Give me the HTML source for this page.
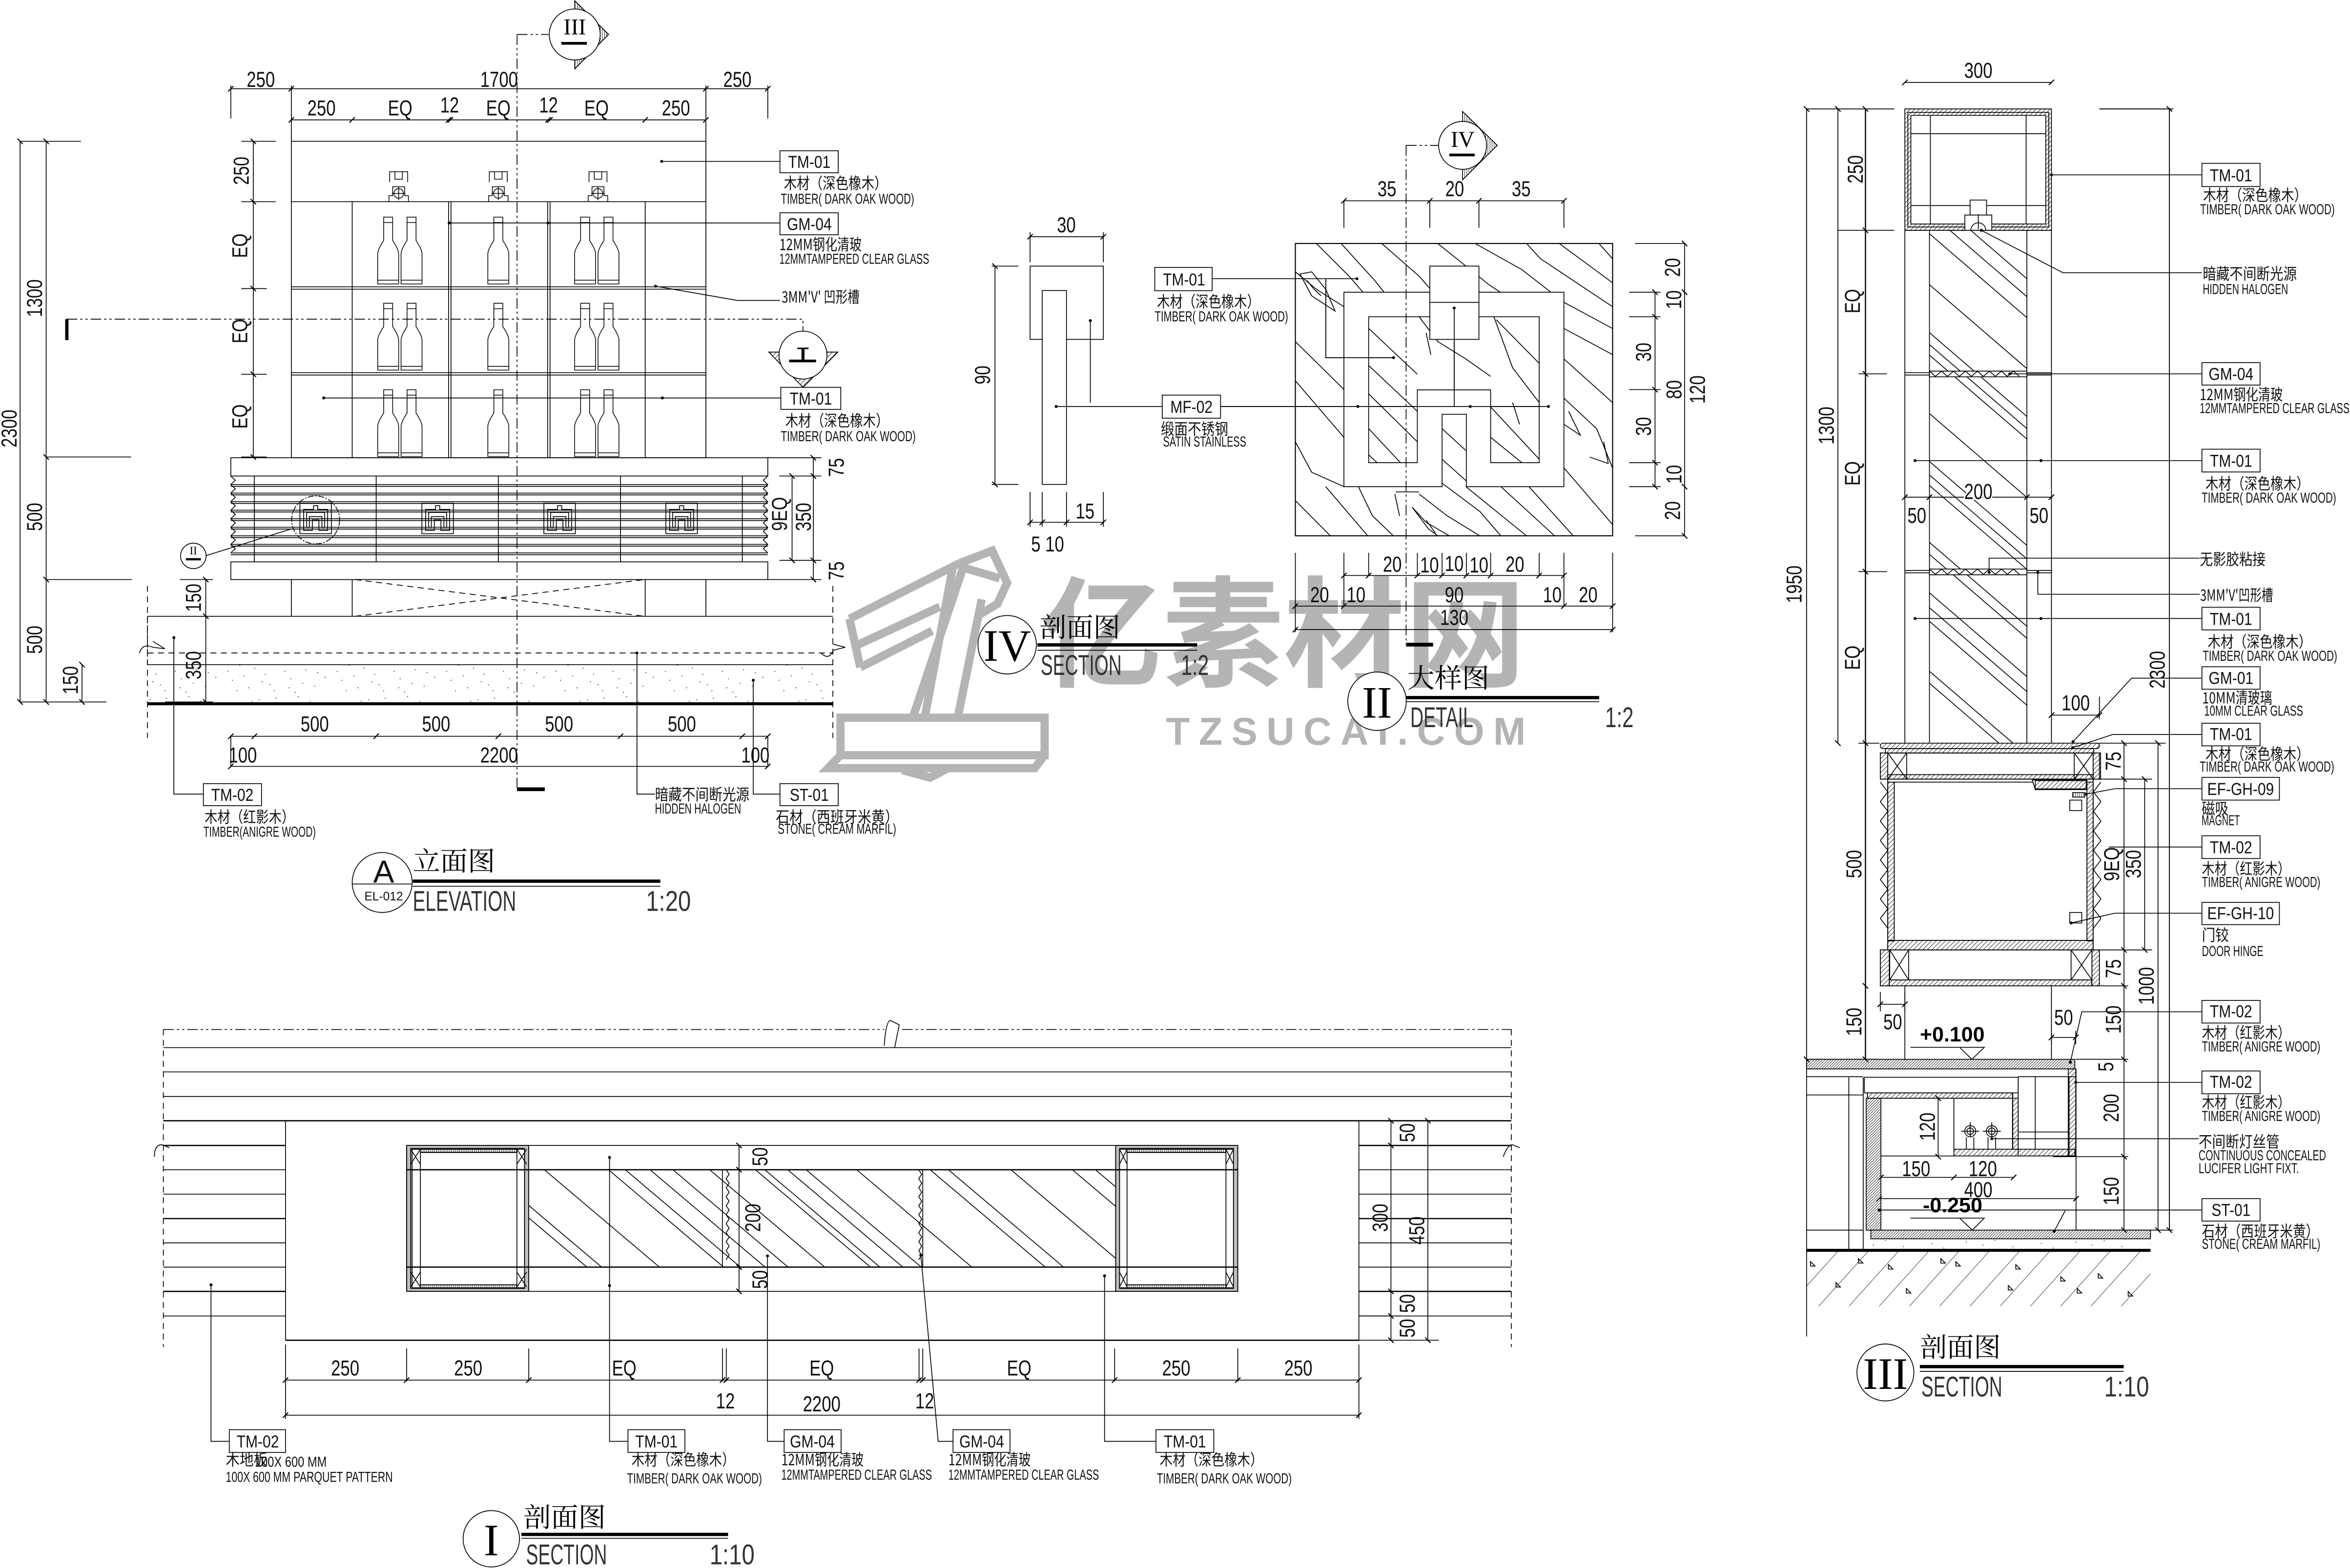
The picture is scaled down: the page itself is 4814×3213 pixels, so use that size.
<!DOCTYPE html>
<html><head><meta charset="utf-8"><title>Drawing</title>
<style>
html,body{margin:0;padding:0;background:#fff}
svg{display:block}
text{font-family:"Liberation Sans","Noto Sans CJK SC",sans-serif;fill:#111}
.d{font-size:14.5px;text-anchor:middle;transform-box:fill-box;transform-origin:center;transform:scaleX(.78)}
.b{font-size:11.5px;text-anchor:middle;transform-box:fill-box;transform-origin:center;transform:scaleX(.85)}
.c{font-size:10.5px;font-family:"Noto Sans CJK SC","Liberation Sans",sans-serif}
.e{font-size:9.5px}
.t{font-size:18px;font-family:"Noto Serif CJK SC","Noto Sans CJK SC",serif;fill:#000}
.n{font-size:19px;fill:#333}
.r{font-family:"Liberation Serif",serif;text-anchor:middle;fill:#000}
.lv{font-size:14px;font-weight:bold;fill:#000}
g.l *,.l{fill:none;stroke:#000;stroke-width:.55}
.w{fill:#fff!important}
.k{fill:#000!important;stroke:none!important}
.dm{fill:none;stroke:#000;stroke-width:.55;marker-start:url(#tk);marker-mid:url(#tk);marker-end:url(#tk)}
.da{stroke-dasharray:7 2 1.5 2 1.5 2}
.ds{stroke-dasharray:4 3}
.bx{fill:#fff;stroke:#000;stroke-width:.55}
.wm{fill:none;stroke:#b4b4b4;stroke-width:5.5;stroke-linejoin:miter}
</style></head><body>
<svg xmlns="http://www.w3.org/2000/svg" width="4814" height="3213" viewBox="0 0 1568 1046.5">
<defs>
<marker id="tk" markerUnits="userSpaceOnUse" markerWidth="8" markerHeight="8" refX="4" refY="4" orient="auto"><path d="M2.2 5.8L5.8 2.2" stroke="#000" stroke-width=".7" fill="none"/></marker>
<pattern id="h1" width="2.2" height="2.2" patternUnits="userSpaceOnUse" patternTransform="rotate(45)"><line x1="0" y1="0" x2="0" y2="2.2" stroke="#000" stroke-width=".55"/></pattern>
<pattern id="h2" width="1.3" height="1.3" patternUnits="userSpaceOnUse" patternTransform="rotate(45)"><line x1="0" y1="0" x2="0" y2="1.3" stroke="#000" stroke-width=".55"/></pattern>
<pattern id="pg" width="15" height="15" patternUnits="userSpaceOnUse" patternTransform="rotate(42)"><line x1="0" y1="0" x2="0" y2="15" stroke="#000" stroke-width=".5"/></pattern>
<pattern id="vh" width="1.4" height="3" patternUnits="userSpaceOnUse"><line x1="0" y1="0" x2="0" y2="3" stroke="#000" stroke-width=".55"/></pattern>
<pattern id="ps" width="73" height="29" patternUnits="userSpaceOnUse"><g fill="#000"><circle cx="3" cy="5" r=".3"/><circle cx="9" cy="19" r=".3"/><circle cx="14" cy="9" r=".3"/><circle cx="20" cy="24" r=".3"/><circle cx="27" cy="3" r=".3"/><circle cx="31" cy="15" r=".3"/><circle cx="37" cy="26" r=".3"/><circle cx="41" cy="7" r=".3"/><circle cx="48" cy="18" r=".3"/><circle cx="53" cy="1" r=".3"/><circle cx="58" cy="12" r=".3"/><circle cx="64" cy="23" r=".3"/><circle cx="69" cy="6" r=".3"/><circle cx="6" cy="13" r=".3"/><circle cx="17" cy="16" r=".3"/><circle cx="24" cy="11" r=".3"/><circle cx="34" cy="22" r=".3"/><circle cx="44" cy="13" r=".3"/><circle cx="51" cy="27" r=".3"/><circle cx="61" cy="4" r=".3"/><circle cx="71" cy="17" r=".3"/><circle cx="12" cy="26" r=".3"/><circle cx="29" cy="20" r=".3"/><circle cx="56" cy="21" r=".3"/><circle cx="66" cy="14" r=".3"/><circle cx="38" cy="2" r=".3"/><circle cx="22" cy="4" r=".3"/><circle cx="47" cy="24" r=".3"/></g></pattern>
<clipPath id="cs"><rect x="864.3" y="162.5" width="211.7" height="195.1"/></clipPath>
<clipPath id="c3"><rect x="1287.4" y="153.7" width="65" height="342.3"/></clipPath>
<clipPath id="c1"><rect x="352.8" y="780.7" width="391.6" height="65"/></clipPath>
<g id="bt"><path d="M-7 0V-20Q-7 -23 -3 -29V-44.6H3V-29Q7 -23 7 -20V0ZM-7 -2.5H7M-3 -41H3" fill="none" stroke="#000" stroke-width=".5"/></g>
<g id="hd" fill="none" stroke="#000" stroke-width=".55"><rect x="-10.5" y="-10.2" width="21" height="20.4"/><path d="M-8 -6H-1.4V-8.5H1.4V-6H8V8H2.2V1H-2.2V8H-8Z"/><path d="M-6 -4H6V6H4.2V-1.2H-4.2V6H-6Z"/></g>
<g id="lp" fill="none" stroke="#000" stroke-width=".5"><path d="M-6 -13V-20H6V-13M-2.5 -20V-15H2.5V-20M-6.5 0V-4H-4V-10H4V-4H6.5V0"/><circle cx="0" cy="-5.5" r="3.2"/><path d="M-4.5 -5.5H4.5M0 -10V-1"/></g>
</defs>
<rect width="1568" height="1046.5" fill="#fff"/>

<!-- watermark -->
<g>
<path class="wm" d="M566.8 413L640 376M574 445.4L622 421M566.8 413L574 445.4M571 431L627 405"/>
<path class="wm" d="M640 376L662 367.5 672 389 665.5 403 654 410M640 378L667 386"/>
<path class="wm" d="M635.6 379.4L617 479M643.9 375L609 479M655 400L639 479"/>
<path class="wm" d="M560.8 479H697V504H560.8ZM697 504L690.4 512.7H552.5L560.8 504M602 514L620.6 519 632 513"/>
<text x="695" y="452" textLength="323" lengthAdjust="spacingAndGlyphs" style="font-family:'Noto Sans CJK SC',sans-serif;font-size:80px;font-weight:bold;fill:#b4b4b4">亿素材网</text>
<text x="778" y="497" textLength="240" style="font-size:26px;font-weight:bold;fill:#b4b4b4">TZSUCAI.COM</text>
</g>

<!-- ELEVATION A -->
<g class="l">
<rect x="194.4" y="94.3" width="276.6" height="211.2"/>
<path d="M194.4 134.6H471M194.4 191.4H471M194.4 193H471M194.4 248.7H471M194.4 250.3H471M235 134.6V305.5M430.5 134.6V305.5M299.3 134.6V305.5M300.9 134.6V305.5M365.4 134.6V305.5M367 134.6V305.5"/>
<rect x="154" y="305.5" width="358.3" height="12.2"/>
<rect x="154" y="375" width="358.3" height="11.8"/>
<path d="M154 323.4H512.3M154 329.1H512.3M154 334.8H512.3M154 340.5H512.3M154 346.2H512.3M154 351.9H512.3M154 357.6H512.3M154 363.3H512.3M154 369H512.3M154 324.6H512.3M154 330.3H512.3M154 336H512.3M154 341.7H512.3M154 347.4H512.3M154 353.1H512.3M154 358.8H512.3M154 364.5H512.3M154 370.2H512.3"/>
<path d="M169.7 317.7V375M251 317.7V375M332.5 317.7V375M414 317.7V375M495.3 317.7V375"/>
<path d="M154 317.7l3 2.8-3 2.9 3 2.8-3 2.9 3 2.8-3 2.9 3 2.8-3 2.9 3 2.8-3 2.9 3 2.8-3 2.9 3 2.8-3 2.9 3 2.8-3 2.9 3 2.8-3 2.9M512.3 317.7l-3 2.8 3 2.9-3 2.8 3 2.9-3 2.8 3 2.9-3 2.8 3 2.9-3 2.8 3 2.9-3 2.8 3 2.9-3 2.8 3 2.9-3 2.8 3 2.9-3 2.8 3 2.9"/>
<path d="M194.4 386.8V411.3M235 386.8V411.3M430.5 386.8V411.3M471 386.8V411.3"/>
<path class="ds" d="M237 386.8L430 411.3M237 411.3L430 386.8"/>
<path d="M98.4 411.3H555.7M98.4 443.6H555.7" />
<path class="ds" d="M98.4 435.8H555.7M98.4 391V492.6M555.7 391V492.6"/>
<path d="M98.4 411.3V443.6" stroke-dasharray="3 3"/>
<path d="M93 436q2-7 9-4l8 1M548 436q5 5 8-2l8-2M102 428l8 5M556 430l8 2"/>
</g>
<rect x="98.4" y="443.6" width="457.3" height="25.5" fill="url(#ps)"/>
<rect x="98.4" y="468.7" width="457.3" height="2" fill="#000"/>
<use href="#bt" x="259" y="189.5"/><use href="#bt" x="274.6" y="189.5"/><use href="#bt" x="332.5" y="189.5"/><use href="#bt" x="390.4" y="189.5"/><use href="#bt" x="406" y="189.5"/>
<use href="#bt" x="259" y="247"/><use href="#bt" x="274.6" y="247"/><use href="#bt" x="332.5" y="247"/><use href="#bt" x="390.4" y="247"/><use href="#bt" x="406" y="247"/>
<use href="#bt" x="259" y="304.7"/><use href="#bt" x="274.6" y="304.7"/><use href="#bt" x="332.5" y="304.7"/><use href="#bt" x="390.4" y="304.7"/><use href="#bt" x="406" y="304.7"/>
<use href="#lp" x="266" y="134.6"/><use href="#lp" x="332.5" y="134.6"/><use href="#lp" x="399" y="134.6"/>
<use href="#hd" x="210.6" y="346"/><use href="#hd" x="292" y="346"/><use href="#hd" x="373.4" y="346"/><use href="#hd" x="454.8" y="346"/>
<g class="l">
<circle cx="210.6" cy="347" r="16" stroke-dasharray="4 1 1 1"/>
<path d="M137 371L194.4 353"/>
<circle class="w" cx="129" cy="371" r="8.5"/>
<path class="da" d="M345 23V527M345 23H366M44.5 213H535.8V221"/>
</g>
<rect x="345" y="525.5" width="18.5" height="2.5" fill="#000"/>
<rect x="43.5" y="213" width="2.2" height="14" fill="#000"/>
<!-- section markers -->
<g class="l">
<path d="M383.5 .5L406 23 383.5 46" class="w"/>
<path d="M383.5 .5L406 23 383.5 46Z" style="fill:url(#vh)"/>
<circle class="w" cx="383.5" cy="23" r="17"/>
<path d="M513 235H559L535.8 258.5Z" style="fill:url(#h1)"/>
<circle class="w" cx="535.8" cy="237" r="16"/>
</g>
<text class="r" x="383.5" y="23" style="font-size:15px">III</text>
<rect x="374.6" y="28" width="17" height="1.8" fill="#000"/>
<rect x="526.5" y="240" width="18" height="1.8" fill="#000"/>
<rect x="534.8" y="232.5" width="2" height="8" fill="#000"/>
<rect x="532" y="232" width="7.5" height="1" fill="#000"/>
<text class="r" x="129" y="370" style="font-size:7.5px">II</text>
<rect x="124" y="372.5" width="10" height="1.5" fill="#000"/>

<!-- dims elevation -->
<polyline class="dm" points="154,59.2 194.4,59.2 471,59.2 512.3,59.2"/>
<polyline class="dm" points="194.4,80 235,80 299.3,80 300.5,80 365.7,80 367,80 430.5,80 471,80"/>
<g class="l"><path d="M154 57V79M512.3 57V79M194.4 57V94M471 57V94M30.8 94.3H54M13.4 94.3H30.8M30.8 305H87.5M30.8 386.8H88M30.8 468.5H71M13 468.5H31M161 94.3H184M161 134.6H184M161 192.6H178M161 249.8H178M161 305H178M120 386.8H142M120 411.3H142M110 468.5H142M520 317.7H548M520 374H548M512.3 305.5H548M512.3 386.8H548M154 491V512M512.3 491V512"/></g>
<polyline class="dm" points="13.4,94.3 13.4,468.5"/>
<polyline class="dm" points="30.8,94.3 30.8,305 30.8,386.8 30.8,468.5"/>
<polyline class="dm" points="54.7,443.6 54.7,468.5"/>
<polyline class="dm" points="169,94.3 169,134.6 169,192.6 169,249.8 169,305"/>
<polyline class="dm" points="137.3,386.8 137.3,411.3 137.3,468.5"/>
<polyline class="dm" points="528.5,317.7 528.5,374"/>
<polyline class="dm" points="542.7,305.5 542.7,317.7 542.7,374 542.7,386.8"/>
<polyline class="dm" points="154,491.4 169.7,491.4 251,491.4 332.5,491.4 414,491.4 495.3,491.4 512.3,491.4"/>
<polyline class="dm" points="154,511.5 512.3,511.5"/>
<text class="d" x="174" y="58">250</text><text class="d" x="333" y="58">1700</text><text class="d" x="492" y="58">250</text>
<text class="d" x="214.5" y="77">250</text><text class="d" x="267" y="77">EQ</text><text class="d" x="300" y="75">12</text><text class="d" x="332.5" y="77">EQ</text><text class="d" x="366" y="75">12</text><text class="d" x="398" y="77">EQ</text><text class="d" x="451" y="77">250</text>
<text class="d" x="210" y="488">500</text><text class="d" x="291" y="488">500</text><text class="d" x="373" y="488">500</text><text class="d" x="455" y="488">500</text>
<text class="d" x="162" y="509">100</text><text class="d" x="333" y="509">2200</text><text class="d" x="504" y="509">100</text>
<g transform="translate(6 286)rotate(-90)"><text class="d" y="5">2300</text></g>
<g transform="translate(23 199)rotate(-90)"><text class="d" y="5">1300</text></g>
<g transform="translate(23 345)rotate(-90)"><text class="d" y="5">500</text></g>
<g transform="translate(23 427)rotate(-90)"><text class="d" y="5">500</text></g>
<g transform="translate(47 454)rotate(-90)"><text class="d" y="5">150</text></g>
<g transform="translate(161 114)rotate(-90)"><text class="d" y="5">250</text></g>
<g transform="translate(160 164)rotate(-90)"><text class="d" y="5">EQ</text></g>
<g transform="translate(160 221)rotate(-90)"><text class="d" y="5">EQ</text></g>
<g transform="translate(160 278)rotate(-90)"><text class="d" y="5">EQ</text></g>
<g transform="translate(129 399)rotate(-90)"><text class="d" y="5">150</text></g>
<g transform="translate(129 444)rotate(-90)"><text class="d" y="5">350</text></g>
<g transform="translate(520 343)rotate(-90)"><text class="d" y="5">9EQ</text></g>
<g transform="translate(536 345)rotate(-90)"><text class="d" y="5">350</text></g>
<g transform="translate(558 312)rotate(-90)"><text class="d" y="5">75</text></g>
<g transform="translate(558 381)rotate(-90)"><text class="d" y="5">75</text></g>

<!-- leaders elevation -->
<g class="l"><path d="M441.5 107.7H520.4M299.7 148.8H520.4M437.4 191L492 200.5H520.4M216 265.6H521M116 425.5V530H135.7M425 435.8V530H437M502.6 454V530H520.4"/>
<rect class="bx" x="520.4" y="100.6" width="38.9" height="14.7"/><rect class="bx" x="520.4" y="142" width="38.9" height="14.7"/><rect class="bx" x="521" y="258.5" width="40" height="14.7"/><rect class="bx" x="135.7" y="523" width="38.8" height="14.7"/><rect class="bx" x="520.4" y="523" width="38.9" height="14.7"/></g>
<g fill="#000"><circle cx="441.5" cy="107.7" r="1"/><circle cx="299.7" cy="148.8" r="1"/><circle cx="365.7" cy="148.8" r="1"/><circle cx="437.4" cy="191" r="1"/><circle cx="216" cy="265.6" r="1"/><circle cx="442" cy="265.6" r="1"/><circle cx="116" cy="425.5" r="1"/><circle cx="425" cy="435.8" r="1"/><circle cx="502.6" cy="454" r="1"/></g>
<text class="b" x="540" y="112">TM-01</text><text class="b" x="540" y="153.5">GM-04</text><text class="b" x="541" y="270">TM-01</text><text class="b" x="155" y="534.5">TM-02</text><text class="b" x="540" y="534.5">ST-01</text>
<text class="c" x="523" y="126" textLength="69" lengthAdjust="spacingAndGlyphs">木材（深色橡木）</text>
<text class="e" x="521" y="136" textLength="89" lengthAdjust="spacingAndGlyphs">TIMBER( DARK OAK WOOD)</text>
<text class="c" x="520" y="167" textLength="55" lengthAdjust="spacingAndGlyphs">12MM钢化清玻</text>
<text class="e" x="520" y="176" textLength="100" lengthAdjust="spacingAndGlyphs">12MMTAMPERED CLEAR GLASS</text>
<text class="c" x="521.5" y="202" textLength="52" lengthAdjust="spacingAndGlyphs">3MM'V' 凹形槽</text>
<text class="c" x="524" y="284.5" textLength="69" lengthAdjust="spacingAndGlyphs">木材（深色橡木）</text>
<text class="e" x="521" y="294.5" textLength="90" lengthAdjust="spacingAndGlyphs">TIMBER( DARK OAK WOOD)</text>
<text class="c" x="136.5" y="549" textLength="60" lengthAdjust="spacingAndGlyphs">木材（红影木）</text>
<text class="e" x="135.7" y="558.5" textLength="75" lengthAdjust="spacingAndGlyphs">TIMBER(ANIGRE WOOD)</text>
<text class="c" x="437" y="534" textLength="63" lengthAdjust="spacingAndGlyphs">暗藏不间断光源</text>
<text class="e" x="437" y="543" textLength="57.5" lengthAdjust="spacingAndGlyphs">HIDDEN HALOGEN</text>
<text class="c" x="517.6" y="549" textLength="82" lengthAdjust="spacingAndGlyphs">石材（西班牙米黄）</text>
<text class="e" x="519" y="556.5" textLength="79" lengthAdjust="spacingAndGlyphs">STONE( CREAM MARFIL)</text>
<!-- Title A -->
<g class="l"><circle cx="255" cy="589" r="20"/><path d="M235 590H275M275.4 591.5H440.6"/></g>
<rect x="275.4" y="587" width="165.2" height="2.2" fill="#000"/>
<text x="256" y="589" style="font-size:21px;text-anchor:middle">A</text>
<text x="256" y="601" style="font-size:8px;text-anchor:middle">EL-012</text>
<text class="t" x="275.4" y="581" textLength="55" lengthAdjust="spacingAndGlyphs">立面图</text>
<text class="n" x="275.4" y="608" textLength="69" lengthAdjust="spacingAndGlyphs">ELEVATION</text>
<text class="n" x="431" y="608" textLength="30" lengthAdjust="spacingAndGlyphs">1:20</text>

<!-- SECTION IV (handle) -->
<g class="l">
<rect x="687.3" y="177.6" width="48.9" height="48.9"/>
<rect class="w" x="695.4" y="193.9" width="16.2" height="129.4"/>
<path d="M661.7 177.6H679.5M661.7 323.3H679.5M687.3 328.3V351.5M695.4 328.3V351.5M711.6 328.3V351.5M736.2 328.3V351.5M687.3 155V175M736.2 155V175"/>
<path d="M704.7 271.3H775.5M814.4 271.3H1033.2M727.5 214V268.7M808.8 186H905.4M884.6 186V238.7H929.8M970.3 205.6V271.3"/>
</g>
<polyline class="dm" points="687.3,158 736.2,158"/>
<polyline class="dm" points="663.9,177.6 663.9,323.3"/>
<polyline class="dm" points="687.3,348.6 695.4,348.6 711.6,348.6 736.2,348.6"/>
<text class="d" x="711.5" y="155">30</text>
<g transform="translate(655.5 250.3)rotate(-90)"><text class="d" y="5">90</text></g>
<text class="d" x="724" y="346">15</text>
<text class="d" x="699" y="368">5 10</text>
<!-- DETAIL II grain: drawn in crop coordinates -->
<g clip-path="url(#cs)">
<g transform="translate(635.2 65.1) scale(.3117 .2908)" fill="none" stroke="#000" stroke-width="1.85">
<path d="M780 335L850 410 880 447M833 335L905 420 925 447M920 335L1000 410 1030 447M1040 335L1150 430 1250 500 1310 530 1414 590M1120 335L1220 395 1310 470 1414 530M1230 335L1260 370 1414 480M1300 335L1414 425M1385 335L1414 370"/>
<path d="M735 400L780 440 839 480M735 560L839 670M735 650L839 780M735 790L770 860 839 893M735 925L810 1006M800 893L890 1006M870 893L900 960 945 1006M985 940L1020 990 1040 1006M1000 910L1060 960 1130 1006M1049 885L1130 950 1175 1006M1100 893L1230 1006M1175 893L1290 1006M1235 893L1330 1006M1310 850L1414 980M1310 600L1414 700M1310 690L1380 760 1414 850"/>
<path d="M892 530L996 635M892 615L996 720M892 680L996 790M892 760L960 838M892 820L910 838M1000 503L1040 560 1100 600 1153 640M1160 503L1200 620 1257 700M1165 510L1257 610M1153 710L1257 830M1153 780L1220 838M1049 760L1100 810M1049 830L1101 880"/>
<path d="M745 405L770 400 800 440 820 490 770 455ZM760 420L775 440 790 455M950 905L1000 905M948 910L958 960M985 940L1015 975 1065 1006M1015 970L1035 1000M1200 700L1215 750M1015 540L1025 590M1320 720L1345 775 1310 750M1365 825L1405 840M1395 790L1405 840"/>
</g>
</g>
<g class="l">
<rect x="864.3" y="162.5" width="211.7" height="195.1" style="stroke-width:.7"/>
<path class="w" fill-rule="evenodd" d="M896.7 195H1043.5V324.8H978.4V276.5H962.2V324.8H896.7ZM913.2 211.4V308.8H945.7V260.2H994.6V308.8H1027V211.4Z"/>
<rect class="w" x="954" y="177.6" width="32.8" height="48.9"/>
<path d="M954 201.8H986.8"/>
<path d="M970.3 205.6V271.3M814.4 271.3H1033.2M884.6 186V238.7H929.8"/>
<path class="da" d="M938.2 97V430M938.2 97H960" />
<path d="M975.9 74.4L999 97 975.9 120Z" style="fill:url(#vh)"/>
<circle class="w" cx="975.9" cy="97" r="16"/>
<path d="M896.7 134V152M954 134V152M986.8 134V152M1043.5 134V152M1091 162.5H1124M1087 195H1108M1087 211.4H1108M1087 260H1108M1087 308.8H1108M1087 324.8H1108M1091 357.6H1124M864.3 369V422M1076 369V422M896.7 369V404.5M913.2 369V384M945.7 369V384M962.2 369V384M978.4 369V384M994.6 369V384M1027 369V384M1043.5 369V404.5"/>
<rect class="bx" x="775.5" y="263.7" width="38.9" height="15.4"/>
<rect class="bx" x="770.5" y="178.5" width="38.3" height="15.5"/>
</g>
<g fill="#000"><circle cx="704.7" cy="271.3" r="1"/><circle cx="727.5" cy="214" r="1"/><circle cx="906" cy="271.3" r="1"/><circle cx="981" cy="271.3" r="1"/><circle cx="1033.2" cy="271.3" r="1"/><circle cx="905.4" cy="186" r="1"/><circle cx="929.8" cy="238.7" r="1"/><circle cx="970.3" cy="205.6" r="1"/></g>
<rect x="938.2" y="429" width="18" height="2.5" fill="#000"/>
<rect x="967" y="102.5" width="17" height="1.8" fill="#000"/>
<text class="r" x="975.9" y="98" style="font-size:15px">IV</text>
<text class="b" x="795" y="275.5">MF-02</text><text class="b" x="790" y="190.5">TM-01</text>
<text class="c" x="774.5" y="290" textLength="45" lengthAdjust="spacingAndGlyphs">缎面不锈钢</text>
<text class="e" x="776" y="298" textLength="55.5" lengthAdjust="spacingAndGlyphs">SATIN STAINLESS</text>
<text class="c" x="772" y="205" textLength="68.6" lengthAdjust="spacingAndGlyphs">木材（深色橡木）</text>
<text class="e" x="770.5" y="214.5" textLength="89" lengthAdjust="spacingAndGlyphs">TIMBER( DARK OAK WOOD)</text>
<polyline class="dm" points="896.7,134 954,134 986.8,134 1043.5,134"/>
<polyline class="dm" points="1104.3,195 1104.3,211.4 1104.3,260 1104.3,308.8 1104.3,324.8"/>
<polyline class="dm" points="1124,162.5 1124,195 1124,324.8 1124,357.6"/>
<polyline class="dm" points="896.7,384.1 913.2,384.1 945.7,384.1 962.2,384.1 978.4,384.1 994.6,384.1 1027,384.1 1043.5,384.1"/>
<polyline class="dm" points="864.3,404.5 896.7,404.5 1043.5,404.5 1076,404.5"/>
<polyline class="dm" points="864.3,420.2 1076,420.2"/>
<text class="d" x="925.4" y="131">35</text><text class="d" x="970.6" y="131">20</text><text class="d" x="1015" y="131">35</text>
<text class="d" x="929" y="381.5">20</text><text class="d" x="953.8" y="382">10</text><text class="d" x="970.3" y="381">10</text><text class="d" x="986.8" y="382">10</text><text class="d" x="1010.8" y="381.5">20</text>
<text class="d" x="880.5" y="402">20</text><text class="d" x="904.8" y="402">10</text><text class="d" x="970.3" y="402">90</text><text class="d" x="1035.7" y="402">10</text><text class="d" x="1059.7" y="402">20</text>
<text class="d" x="970.3" y="417">130</text>
<g transform="translate(1116 178.5)rotate(-90)"><text class="d" y="5">20</text></g>
<g transform="translate(1116.8 200)rotate(-90)"><text class="d" y="5">10</text></g>
<g transform="translate(1096.5 235)rotate(-90)"><text class="d" y="5">30</text></g>
<g transform="translate(1117 260)rotate(-90)"><text class="d" y="5">80</text></g>
<g transform="translate(1132.5 260)rotate(-90)"><text class="d" y="5">120</text></g>
<g transform="translate(1096.5 284.6)rotate(-90)"><text class="d" y="5">30</text></g>
<g transform="translate(1117 316.6)rotate(-90)"><text class="d" y="5">10</text></g>
<g transform="translate(1116 340.8)rotate(-90)"><text class="d" y="5">20</text></g>
<!-- titles IV II -->
<g class="l"><circle class="w" cx="672" cy="430.3" r="19.5"/><circle class="w" cx="918.8" cy="468" r="19.5"/><path d="M692.2 434H798.8M938.2 468.3H1067"/></g>
<rect x="692.2" y="429.3" width="106.6" height="2.2" fill="#000"/><rect x="938.2" y="464.5" width="128.8" height="2.2" fill="#000"/>
<text class="r" x="672" y="441" style="font-size:30px">IV</text><text class="r" x="918.8" y="479" style="font-size:30px">II</text>
<text class="t" x="693.5" y="425" textLength="54" lengthAdjust="spacingAndGlyphs">剖面图</text><text class="t" x="939" y="459" textLength="54.7" lengthAdjust="spacingAndGlyphs">大样图</text>
<text class="n" x="694.4" y="450.4" textLength="54" lengthAdjust="spacingAndGlyphs">SECTION</text><text class="n" x="788" y="450.4" textLength="18.6" lengthAdjust="spacingAndGlyphs">1:2</text>
<text class="n" x="941" y="485.3" textLength="42" lengthAdjust="spacingAndGlyphs">DETAIL</text><text class="n" x="1071" y="485.3" textLength="19" lengthAdjust="spacingAndGlyphs">1:2</text>

<!-- SECTION III -->
<g class="l">
<path d="M1205.4 72.7V892"/>
<path fill-rule="evenodd" style="fill:url(#h1)" d="M1271 72.7H1368.8V153.7H1271ZM1275 77V149.5H1365V77Z"/>
<rect x="1273" y="75" width="94" height="76.5"/>
<path d="M1288 77V149.5M1351.9 77V149.5M1275 89.2H1365M1275 137.2H1365M1271 153.7H1368.8"/>
<path class="w" d="M1311 153.7V143.5H1314.5V133.5H1325.5V143.5H1329V153.7Z"/>
<path d="M1314.5 143.5H1325.5M1320 143V153M1315 153.7a5 5 0 0 1 10 0"/>
<path d="M1271 153.7V496M1287.4 153.7V496M1352.4 153.7V496M1368.8 153.7V496"/>
</g>
<g clip-path="url(#c3)" class="l"><path d="M1287.4 130l65 56M1287.4 142l65 56M1287.4 156l65 56M1287.4 190l65 56M1287.4 222l65 56M1287.4 230l65 56M1287.4 237l65 56M1287.4 276l65 56M1287.4 308l65 56M1287.4 317l65 56M1287.4 324l65 56M1287.4 362l65 56M1287.4 370l65 56M1287.4 395.6l65 56M1287.4 405.6l65 56M1287.4 414.7l65 56M1287.4 448l65 56M1287.4 456l65 56"/></g>
<g class="l">
<path d="M1271 248.7H1287.4M1271 250.3H1287.4M1352.4 248.7H1368.8M1352.4 250.3H1368.8M1271 380.7H1287.4M1271 382.3H1287.4M1352.4 380.7H1368.8M1352.4 382.3H1368.8"/>
<path class="w" d="M1287.4 247.7H1352.4V251.5H1287.4Z"/>
<path class="w" d="M1287.4 379.8H1352.4V383.6H1287.4Z"/>
<path d="M1287.4 247.7l4 3.5 4-3.5 4 3.5 4-3.5 4 3.5 4-3.5 4 3.5 4-3.5 4 3.5 4-3.5 4 3.5 4-3.5 4 3.5 4-3.5 4 3.5M1287.4 379.8l4 3.5 4-3.5 4 3.5 4-3.5 4 3.5 4-3.5 4 3.5 4-3.5 4 3.5 4-3.5 4 3.5 4-3.5 4 3.5 4-3.5 4 3.5"/>
<path d="M1244.7 72.7V707" style="stroke-width:.8"/>
<path d="M1205.4 72.7H1264M1226 153.7H1264M1240 249.5H1259M1240 381.5H1259M1205 707H1254M1400.8 72.7H1450M1240 496H1254"/>
<!-- cabinet -->
<rect x="1254.6" y="496" width="146.2" height="3.6" rx="1.8" style="fill:url(#h1)"/>
<rect x="1258" y="499.6" width="139" height="3" style="fill:url(#h1)"/>
<path d="M1254.6 502.5H1400.8V520H1254.6ZM1259.6 502.5V520M1272.2 502.5V520M1384 502.5V520M1396.6 502.5V520M1259.6 502.5L1272.2 520M1272.2 502.5L1259.6 520M1384 502.5L1396.6 520M1396.6 502.5L1384 520M1259.6 517H1396.6"/>
<rect x="1254.6" y="502.5" width="5" height="17.5" style="fill:url(#h1)"/>
<rect x="1396.6" y="502.5" width="5" height="17.5" style="fill:url(#h1)"/>
<rect x="1259.6" y="517" width="137" height="3" style="fill:url(#h1)"/>
<rect x="1259.6" y="520" width="137" height="114" class="w"/>
<rect x="1259.6" y="520" width="137" height="114"/>
<rect x="1263.9" y="522" width="128.6" height="105.6"/>
<rect x="1259.6" y="522" width="4.3" height="106" style="fill:url(#h1)"/>
<rect x="1392.5" y="522" width="4.1" height="106" style="fill:url(#h1)"/>
<rect x="1259.6" y="627.6" width="137" height="6.4" style="fill:url(#h1)"/>
<path class="w" d="M1356 520.5H1392.5V527H1358Z"/><rect x="1358" y="521" width="34" height="5.5" style="fill:url(#h1)"/>
<path d="M1254.6 522l5 6.5-5 6.5 5 6.5-5 6.5 5 6.5-5 6.5 5 6.5-5 6.5 5 6.5-5 6.5 5 6.5-5 6.5 5 6.5-5 6.5 5 6.5M1401.8 522l-5 6.5 5 6.5-5 6.5 5 6.5-5 6.5 5 6.5-5 6.5 5 6.5-5 6.5 5 6.5-5 6.5 5 6.5-5 6.5 5 6.5-5 6.5"/>
<rect x="1381" y="534" width="8" height="7"/><rect x="1381" y="609" width="8" height="7"/>
<rect x="1383" y="529" width="8" height="3" style="fill:url(#vh)"/>
<path d="M1254.6 634H1400.8V658H1254.6ZM1260.9 634V654M1273.5 634V654M1381.9 634V654M1395.8 634V654M1260.9 634L1273.5 654M1273.5 634L1260.9 654M1381.9 634L1395.8 654M1395.8 634L1381.9 654M1260.9 654H1395.8"/>
<rect x="1254.6" y="634" width="6" height="24" style="fill:url(#h1)"/><rect x="1395.8" y="634" width="5" height="24" style="fill:url(#h1)"/><rect x="1260.6" y="654" width="135" height="4" style="fill:url(#h1)"/>
<!-- plinth & base -->
<path d="M1271 658V707M1368.8 658V707M1385.2 713.4V821"/>
<rect x="1205.4" y="707" width="179" height="6.4" style="fill:url(#h2)"/>
<path d="M1205.4 713.4H1384.4M1205.4 718.6H1243M1205.4 730.8H1243M1205.4 821H1243M1233.6 719V834M1243.2 719V834"/>
<path d="M1244 719H1346.6V729.4H1244ZM1246 729.4H1342.8V733H1246Z"/>
<rect x="1246" y="729.4" width="97" height="3.6" style="fill:url(#h1)"/>
<rect x="1245.2" y="733" width="9.8" height="88" style="fill:url(#h2)"/>
<path d="M1346.6 718.6H1380.6V771.5M1346.6 718.6V771.5M1358 718.6V767M1342.8 733V767M1303.7 733V767M1346.6 755.5H1380.6M1380.6 718.6H1385"/>
<rect x="1380" y="713.4" width="5" height="58" style="fill:url(#h1)"/>
<rect x="1343" y="733" width="3.6" height="34" style="fill:url(#h1)"/>
<rect x="1303.7" y="767" width="80.7" height="4.5" style="fill:url(#h1)"/>
<path d="M1255 771.5H1303.7M1348 771.5H1385"/>
<circle cx="1314.6" cy="755" r="3.7"/><circle cx="1314.6" cy="755" r="2.2"/><circle cx="1329" cy="755" r="3.7"/><circle cx="1329" cy="755" r="2.2"/>
<path d="M1314.6 749V759M1329 749V759M1308.5 755H1320.5M1323 755H1335M1312 759V767M1317 759V767M1326.5 759V767M1331.5 759V767"/>
<rect x="1248.3" y="821" width="186.6" height="5.8" style="fill:url(#h2)"/>
</g>
<rect x="1248.3" y="826.8" width="186.6" height="7" fill="url(#ps)"/>
<rect x="1205.4" y="833.5" width="229.5" height="2" fill="#000"/>
<rect x="1205.4" y="835.5" width="229.5" height="36.3" fill="url(#pg)"/>
<g class="l"><path d="M1208 842l3 3h-3zM1240 840l3 3h-3zM1260 844l3 3h-3zM1295 840l3 3h-3zM1305 842l3 3h-3zM1345 844l3 3h-3zM1375 852l3 3h-3zM1386 860l3 3h-3zM1340 858l3 3h-3zM1400 850l3 3h-3zM1272 860l3 3h-3zM1225 856l3 3h-3zM1420 862l3 3h-3z"/>
<path d="M1322 153.7L1376.4 182H1469.2M1368.8 116.7H1469.2M1341 249.5H1469.2M1277.8 307.4H1469.2M1467.7 372.5H1327.2V382M1359.7 382V396.6H1467.7M1277.8 412.8H1469.2M1469.2 452.6H1422.3L1383.2 495M1469.2 490.2H1409.7L1383 499M1469.2 526.4H1411L1392 530M1407 565.3H1469.2M1469.2 609.5H1411L1382 616M1469.2 675.3H1389L1381.4 709M1385 722.4H1469.2M1329 760H1467M1253.8 807.6H1469.2M1370.6 821.8L1378 808"/>
<rect class="bx" x="1469.2" y="109" width="38.8" height="15.5"/><rect class="bx" x="1469.2" y="242" width="38.8" height="15"/><rect class="bx" x="1469.2" y="299.8" width="38.8" height="15.2"/><rect class="bx" x="1469.2" y="405.3" width="38.8" height="15.1"/><rect class="bx" x="1469.2" y="445" width="38.8" height="15"/><rect class="bx" x="1469.2" y="482.7" width="38.8" height="15.1"/><rect class="bx" x="1469.2" y="518.8" width="51.7" height="15.2"/><rect class="bx" x="1469.2" y="557.8" width="38.8" height="15.2"/><rect class="bx" x="1469.2" y="602.3" width="51.7" height="14.8"/><rect class="bx" x="1469.2" y="667.7" width="38.8" height="15.1"/><rect class="bx" x="1469.2" y="714.8" width="38.8" height="15.2"/><rect class="bx" x="1469.2" y="800" width="38.8" height="15"/>
<path d="M1274.7 699H1324L1315.7 707 1307.5 699M1274.7 813H1324L1316 821 1307.5 813"/>
<path d="M1400.8 72.7H1450M1447.5 72.7V821M1400 496H1445M1400 520H1436M1400 634H1436M1400 658H1420M1385 707H1420M1370 772H1420M1385 821H1450"/>
<path d="M1254.6 662V675M1271 662V675M1368.8 688V697M1385 688V697M1400.8 465V480"/>
</g>
<g fill="#000"><circle cx="1322" cy="153.7" r="1"/><circle cx="1368.8" cy="116.7" r="1"/><circle cx="1341" cy="249.5" r="1"/><circle cx="1277.8" cy="307.4" r="1"/><circle cx="1361.8" cy="307.4" r="1"/><circle cx="1327.2" cy="382" r="1"/><circle cx="1359.7" cy="382" r="1"/><circle cx="1277.8" cy="412.8" r="1"/><circle cx="1361.8" cy="412.8" r="1"/><circle cx="1383.2" cy="495" r="1"/><circle cx="1383" cy="499" r="1"/><circle cx="1392" cy="530" r="1"/><circle cx="1382" cy="616" r="1"/><circle cx="1381.4" cy="709" r="1"/><circle cx="1385" cy="722.4" r="1"/><circle cx="1329" cy="760" r="1"/><circle cx="1253.8" cy="807.6" r="1"/><circle cx="1370.6" cy="821.8" r="1"/></g>
<polyline class="dm" points="1271,55 1368.8,55"/>
<polyline class="dm" points="1205.4,72.7 1205.4,707"/>
<polyline class="dm" points="1226.3,72.7 1226.3,496"/>
<polyline class="dm" points="1244.7,72.7 1244.7,153.7 1244.7,249.5 1244.7,381.5 1244.7,496 1244.7,658 1244.7,707"/>
<polyline class="dm" points="1271,331.8 1287.4,331.8 1352.4,331.8 1368.8,331.8"/>
<polyline class="dm" points="1368.8,477.3 1400.8,477.3"/>
<polyline class="dm" points="1417.2,496 1417.2,520 1417.2,634 1417.2,658 1417.2,707 1417.2,772 1417.2,821"/>
<polyline class="dm" points="1431,520 1431,634"/>
<polyline class="dm" points="1439.9,496 1439.9,821"/>
<polyline class="dm" points="1447.5,72.7 1447.5,821"/>
<polyline class="dm" points="1254.6,670.3 1271,670.3"/>
<polyline class="dm" points="1368.8,692.4 1385,692.4"/>
<polyline class="dm" points="1293.2,733 1293.2,772"/>
<polyline class="dm" points="1255,785.8 1303.7,785.8 1343.6,785.8"/>
<polyline class="dm" points="1253.8,800 1385.2,800"/>
<text class="d" x="1320" y="52">300</text><text class="d" x="1320" y="333" style="paint-order:stroke;stroke:#fff;stroke-width:2">200</text><text class="d" x="1279" y="349">50</text><text class="d" x="1360.5" y="349">50</text><text class="d" x="1385" y="474">100</text>
<text class="d" x="1262.9" y="687">50</text><text class="d" x="1376.9" y="684">50</text>
<text class="d" x="1278.5" y="785">150</text><text class="d" x="1323" y="785">120</text><text class="d" x="1320" y="799">400</text>
<text class="lv" x="1281" y="695">+0.100</text><text class="lv" x="1283" y="809">-0.250</text>
<g transform="translate(1238 113)rotate(-90)"><text class="d" y="5">250</text></g>
<g transform="translate(1236 201)rotate(-90)"><text class="d" y="5">EQ</text></g>
<g transform="translate(1236 316)rotate(-90)"><text class="d" y="5">EQ</text></g>
<g transform="translate(1236 439)rotate(-90)"><text class="d" y="5">EQ</text></g>
<g transform="translate(1218.5 284)rotate(-90)"><text class="d" y="5">1300</text></g>
<g transform="translate(1197 390)rotate(-90)"><text class="d" y="5">1950</text></g>
<g transform="translate(1439.4 447)rotate(-90)"><text class="d" y="5">2300</text></g>
<g transform="translate(1236.9 576.7)rotate(-90)"><text class="d" y="5">500</text></g>
<g transform="translate(1237 682)rotate(-90)"><text class="d" y="5">150</text></g>
<g transform="translate(1410 508)rotate(-90)"><text class="d" y="5">75</text></g>
<g transform="translate(1410 646.5)rotate(-90)"><text class="d" y="5">75</text></g>
<g transform="translate(1409 576.7)rotate(-90)"><text class="d" y="5">9EQ</text></g>
<g transform="translate(1423.5 576.7)rotate(-90)"><text class="d" y="5">350</text></g>
<g transform="translate(1432 658)rotate(-90)"><text class="d" y="5">1000</text></g>
<g transform="translate(1410 680.5)rotate(-90)"><text class="d" y="5">150</text></g>
<g transform="translate(1405 712)rotate(-90)"><text class="d" y="5">5</text></g>
<g transform="translate(1408.6 739.5)rotate(-90)"><text class="d" y="5">200</text></g>
<g transform="translate(1408.6 795)rotate(-90)"><text class="d" y="5">150</text></g>
<g transform="translate(1286 752)rotate(-90)"><text class="d" y="5">120</text></g>
<text class="b" x="1488.6" y="121">TM-01</text><text class="b" x="1488.6" y="253.5">GM-04</text><text class="b" x="1488.6" y="311.5">TM-01</text><text class="b" x="1488.6" y="417">TM-01</text><text class="b" x="1488.6" y="456.5">GM-01</text><text class="b" x="1488.6" y="494">TM-01</text><text class="b" x="1495" y="530.5">EF-GH-09</text><text class="b" x="1488.6" y="569.5">TM-02</text><text class="b" x="1495" y="613.5">EF-GH-10</text><text class="b" x="1488.6" y="679">TM-02</text><text class="b" x="1488.6" y="726">TM-02</text><text class="b" x="1488.6" y="811.5">ST-01</text>
<text class="c" x="1470" y="134" textLength="69.4" lengthAdjust="spacingAndGlyphs">木材（深色橡木）</text>
<text class="e" x="1468" y="143" textLength="89.8" lengthAdjust="spacingAndGlyphs">TIMBER( DARK OAK WOOD)</text>
<text class="c" x="1469.7" y="186.5" textLength="62.8" lengthAdjust="spacingAndGlyphs">暗藏不间断光源</text>
<text class="e" x="1469.7" y="196.2" textLength="57" lengthAdjust="spacingAndGlyphs">HIDDEN HALOGEN</text>
<text class="c" x="1467.7" y="267" textLength="55.5" lengthAdjust="spacingAndGlyphs">12MM钢化清玻</text>
<text class="e" x="1467.7" y="275.7" textLength="100" lengthAdjust="spacingAndGlyphs">12MMTAMPERED CLEAR GLASS</text>
<text class="c" x="1471.5" y="326.5" textLength="69.4" lengthAdjust="spacingAndGlyphs">木材（深色橡木）</text>
<text class="e" x="1469" y="335.4" textLength="89.8" lengthAdjust="spacingAndGlyphs">TIMBER( DARK OAK WOOD)</text>
<text class="c" x="1467.7" y="377" textLength="44" lengthAdjust="spacingAndGlyphs">无影胶粘接</text>
<text class="c" x="1468" y="401" textLength="48.7" lengthAdjust="spacingAndGlyphs">3MM'V'凹形槽</text>
<text class="c" x="1473" y="432" textLength="69.4" lengthAdjust="spacingAndGlyphs">木材（深色橡木）</text>
<text class="e" x="1469.7" y="441" textLength="89.8" lengthAdjust="spacingAndGlyphs">TIMBER( DARK OAK WOOD)</text>
<text class="c" x="1469.4" y="469.5" textLength="46.7" lengthAdjust="spacingAndGlyphs">10MM清玻璃</text>
<text class="e" x="1470.7" y="477.6" textLength="66" lengthAdjust="spacingAndGlyphs">10MM CLEAR GLASS</text>
<text class="c" x="1471.5" y="507" textLength="69.4" lengthAdjust="spacingAndGlyphs">木材（深色橡木）</text>
<text class="e" x="1467.7" y="515" textLength="89.8" lengthAdjust="spacingAndGlyphs">TIMBER( DARK OAK WOOD)</text>
<text class="c" x="1469" y="543.5" textLength="18" lengthAdjust="spacingAndGlyphs">磁吸</text>
<text class="e" x="1469" y="550.7" textLength="25.5" lengthAdjust="spacingAndGlyphs">MAGNET</text>
<text class="c" x="1469.2" y="583.5" textLength="59" lengthAdjust="spacingAndGlyphs">木材（红影木）</text>
<text class="e" x="1469.2" y="592" textLength="79" lengthAdjust="spacingAndGlyphs">TIMBER( ANIGRE WOOD)</text>
<text class="c" x="1469.2" y="627.8" textLength="18" lengthAdjust="spacingAndGlyphs">门铰</text>
<text class="e" x="1469.2" y="638" textLength="41" lengthAdjust="spacingAndGlyphs">DOOR HINGE</text>
<text class="c" x="1469.2" y="693" textLength="59" lengthAdjust="spacingAndGlyphs">木材（红影木）</text>
<text class="e" x="1469.2" y="701.7" textLength="79" lengthAdjust="spacingAndGlyphs">TIMBER( ANIGRE WOOD)</text>
<text class="c" x="1469.2" y="739.5" textLength="59" lengthAdjust="spacingAndGlyphs">木材（红影木）</text>
<text class="e" x="1469.2" y="748.2" textLength="79" lengthAdjust="spacingAndGlyphs">TIMBER( ANIGRE WOOD)</text>
<text class="c" x="1467" y="765.7" textLength="54" lengthAdjust="spacingAndGlyphs">不间断灯丝管</text>
<text class="e" x="1467" y="774.4" textLength="85" lengthAdjust="spacingAndGlyphs">CONTINUOUS CONCEALED</text>
<text class="e" x="1467" y="783" textLength="67" lengthAdjust="spacingAndGlyphs">LUCIFER LIGHT FIXT.</text>
<text class="c" x="1469.2" y="825.5" textLength="78" lengthAdjust="spacingAndGlyphs">石材（西班牙米黄）</text>
<text class="e" x="1469.2" y="833.5" textLength="79" lengthAdjust="spacingAndGlyphs">STONE( CREAM MARFIL)</text>
<g class="l"><circle cx="1258" cy="916" r="19"/><path d="M1281 915.3H1417"/></g>
<rect x="1281" y="911" width="136" height="2.2" fill="#000"/>
<text class="r" x="1258" y="927" style="font-size:30px">III</text>
<text class="t" x="1281" y="905.5" textLength="54" lengthAdjust="spacingAndGlyphs">剖面图</text>
<text class="n" x="1282" y="932" textLength="54" lengthAdjust="spacingAndGlyphs">SECTION</text>
<text class="n" x="1404" y="932" textLength="30" lengthAdjust="spacingAndGlyphs">1:10</text>

<!-- SECTION I -->
<g class="l">
<path class="da" d="M109 687.1H590M602 687.1H1008.4"/>
<path d="M109 699.2H1008.4M109 715.4H1008.4M109 731.8H1008.4M109 748H1008.4"/>
<path d="M109 764.5H190.5M109 780.7H190.5M109 797H190.5M109 813.3H190.5M109 829.5H190.5M109 845.7H190.5M109 861.9H190.5M109 878.3H190.5M906.7 764.5H1008.4M906.7 780.7H1008.4M906.7 797H1008.4M906.7 813.3H1008.4M906.7 829.5H1008.4M906.7 845.7H1008.4M906.7 861.9H1008.4M906.7 878.3H1008.4"/>
<path style="stroke-width:.85" d="M109 748H1008.4M109 764.5H190.5M109 813.3H190.5M109 861.9H190.5M906.7 764.5H1008.4M906.7 813.3H1008.4M906.7 861.9H1008.4M190.5 894.5H906.7M271.3 780.7H825.9M271.3 845.7H825.9"/>
<path d="M190.5 748V894.5M906.7 748V894.5"/>
<path class="ds" d="M109 687V899M1008.4 687V899"/>
<path d="M590 698q1-16 4-17l6 3-3 15M103 772q0-8 5-8l5 2M1003 772q3-8 6-8l5 2"/>
<rect x="271.3" y="764.5" width="554.6" height="97.4"/>
</g>
<g clip-path="url(#c1)" class="l"><path d="M324.6 780.7l76.6 64.8M314.8 780.7l76.6 64.8M363.2 780.7l76.6 64.8M406 780.7l76.6 64.8M417.2 780.7l76.6 64.8M433.7 780.7l76.6 64.8M449 780.7l76.6 64.8M473.5 780.7l76.6 64.8M504 780.7l76.6 64.8M510.3 780.7l76.6 64.8M525.6 780.7l76.6 64.8M537.9 780.7l76.6 64.8M571.6 780.7l76.6 64.8M620.6 780.7l76.6 64.8M632.8 780.7l76.6 64.8M674.5 780.7l76.6 64.8M715.5 780.7l76.6 64.8M730.9 780.7l76.6 64.8"/></g>
<g class="l">
<path d="M271.3 780.7H825.9M271.3 845.7H825.9M482 780.7V845.7M615.7 780.7V845.7"/>
<path d="M484.5 780.7l2 3-2 3 2 3-2 3 2 3-2 3 2 3-2 3 2 3-2 3 2 3-2 3 2 3-2 3 2 3-2 3 2 3-2 3 2 3-2 3M613 780.7l2 3-2 3 2 3-2 3 2 3-2 3 2 3-2 3 2 3-2 3 2 3-2 3 2 3-2 3 2 3-2 3 2 3-2 3 2 3-2 3"/>
<path fill-rule="evenodd" style="fill:#000;fill-opacity:.25" d="M271.3 764.5H352.8V861.9H271.3ZM275 767V859.5H350V767Z"/>
<rect x="271.3" y="764.5" width="81.5" height="97.4"/><rect x="274" y="766.5" width="76" height="93.4"/>
<rect x="280.5" y="769" width="64.4" height="88.5"/>
<path d="M274 767l6.5 10M280.5 767l-6.5 10M344.9 767l6.5 10M351.4 767l-6.5 10M274 849l6.5 10M280.5 849l-6.5 10M344.9 849l6.5 10M351.4 849l-6.5 10"/>
<rect x="280.5" y="767" width="64.4" height="2.2" style="fill:url(#vh)"/><rect x="280.5" y="857.5" width="64.4" height="2.2" style="fill:url(#vh)"/>
<path fill-rule="evenodd" style="fill:#000;fill-opacity:.25" d="M744.4 764.5H825.9V861.9H744.4ZM747 767V859.5H823V767Z"/>
<rect x="744.4" y="764.5" width="81.5" height="97.4"/><rect x="747" y="766.5" width="76" height="93.4"/>
<rect x="752" y="769" width="66" height="88.5"/>
<path d="M747 767l5 10M752 767l-5 10M818 767l5 10M823 767l-5 10M747 849l5 10M752 849l-5 10M818 849l5 10M823 849l-5 10"/>
<rect x="752" y="767" width="66" height="2.2" style="fill:url(#vh)"/><rect x="752" y="857.5" width="66" height="2.2" style="fill:url(#vh)"/>
<path d="M271.3 780.7H352.8M271.3 845.7H352.8M744.4 780.7H825.9M744.4 845.7H825.9"/>
<!-- leaders I -->
<path d="M140.8 857.5V962H153M406.7 772.5V962H419M512.1 838.2V962H523.2M614.4 837.7L626 962H635.9M737 851.5V962H771.3"/>
<rect class="bx" x="153" y="954.2" width="37.5" height="15.2"/><rect class="bx" x="419" y="954.2" width="38" height="15.2"/><rect class="bx" x="523.2" y="954.2" width="38" height="15.2"/><rect class="bx" x="635.9" y="954.2" width="38" height="15.2"/><rect class="bx" x="771.3" y="954.2" width="38.6" height="15.2"/>
<path d="M190.5 897.4V947M906.7 897.4V947M271.3 900V922M352.8 900V922M482.1 900V922M484.6 900V922M613.2 900V922M615.7 900V922M743.7 900V922M825.9 900V922M906.7 748H945M906.7 894.5H960M906.7 764.5H935M906.7 861.9H935M906.7 878.3H935"/>
</g>
<g fill="#000"><circle cx="140.8" cy="857.5" r="1"/><circle cx="406.7" cy="772.5" r="1"/><circle cx="406.7" cy="858" r="1"/><circle cx="512.1" cy="838.2" r="1"/><circle cx="614.4" cy="837.7" r="1"/><circle cx="737" cy="851.5" r="1"/></g>
<polyline class="dm" points="190.5,921.1 271.3,921.1 352.8,921.1 482.1,921.1 484.6,921.1 613.2,921.1 615.7,921.1 743.7,921.1 825.9,921.1 906.7,921.1"/>
<polyline class="dm" points="190.5,944.5 906.7,944.5"/>
<polyline class="dm" points="493.1,764.5 493.1,780.7 493.1,845.7 493.1,861.9"/>
<polyline class="dm" points="928.1,748 928.1,764.5 928.1,861.9 928.1,878.3 928.1,894.5"/>
<polyline class="dm" points="952.7,748 952.7,894.5"/>
<text class="d" x="230.3" y="918">250</text><text class="d" x="312.4" y="918">250</text><text class="d" x="416.5" y="918">EQ</text><text class="d" x="548.3" y="918">EQ</text><text class="d" x="680" y="918">EQ</text><text class="d" x="784.8" y="918">250</text><text class="d" x="866.3" y="918">250</text>
<text class="d" x="484" y="940">12</text><text class="d" x="617" y="940">12</text><text class="d" x="548.3" y="942">2200</text>
<g transform="translate(507 772)rotate(-90)"><text class="d" y="5">50</text></g>
<g transform="translate(502.3 812.8)rotate(-90)"><text class="d" y="5">200</text></g>
<g transform="translate(507 854)rotate(-90)"><text class="d" y="5">50</text></g>
<g transform="translate(920.8 812.8)rotate(-90)"><text class="d" y="5">300</text></g>
<g transform="translate(945.3 821.3)rotate(-90)"><text class="d" y="5">450</text></g>
<g transform="translate(939 756)rotate(-90)"><text class="d" y="5">50</text></g>
<g transform="translate(939 870)rotate(-90)"><text class="d" y="5">50</text></g>
<g transform="translate(939 886.5)rotate(-90)"><text class="d" y="5">50</text></g>
<text class="b" x="172" y="966">TM-02</text><text class="b" x="438" y="966">TM-01</text><text class="b" x="542" y="966">GM-04</text><text class="b" x="655" y="966">GM-04</text><text class="b" x="790.6" y="966">TM-01</text>
<text class="c" x="150.6" y="978" textLength="28" lengthAdjust="spacingAndGlyphs">木地板</text>
<text class="e" x="170" y="979" textLength="48" lengthAdjust="spacingAndGlyphs">100X 600 MM</text>
<text class="e" x="150.6" y="989" textLength="111.5" lengthAdjust="spacingAndGlyphs">100X 600 MM PARQUET PATTERN</text>
<text class="c" x="421.4" y="978" textLength="69" lengthAdjust="spacingAndGlyphs">木材（深色橡木）</text>
<text class="e" x="418.4" y="990" textLength="90" lengthAdjust="spacingAndGlyphs">TIMBER( DARK OAK WOOD)</text>
<text class="c" x="521.3" y="978" textLength="55" lengthAdjust="spacingAndGlyphs">12MM钢化清玻</text>
<text class="e" x="521.3" y="987.5" textLength="100.5" lengthAdjust="spacingAndGlyphs">12MMTAMPERED CLEAR GLASS</text>
<text class="c" x="632.8" y="978" textLength="55" lengthAdjust="spacingAndGlyphs">12MM钢化清玻</text>
<text class="e" x="632.8" y="987.5" textLength="100.5" lengthAdjust="spacingAndGlyphs">12MMTAMPERED CLEAR GLASS</text>
<text class="c" x="773.8" y="978" textLength="69" lengthAdjust="spacingAndGlyphs">木材（深色橡木）</text>
<text class="e" x="771.9" y="990" textLength="90" lengthAdjust="spacingAndGlyphs">TIMBER( DARK OAK WOOD)</text>
<g class="l"><circle cx="327.8" cy="1027" r="18.8"/><path d="M347.9 1026.7H485.8"/></g>
<rect x="347.9" y="1023" width="137.9" height="2.2" fill="#000"/>
<text class="r" x="327.8" y="1038" style="font-size:30px">I</text>
<text class="t" x="349.2" y="1019" textLength="55" lengthAdjust="spacingAndGlyphs">剖面图</text>
<text class="n" x="351" y="1044" textLength="54" lengthAdjust="spacingAndGlyphs">SECTION</text>
<text class="n" x="473.5" y="1044" textLength="30" lengthAdjust="spacingAndGlyphs">1:10</text>
</svg>
</body></html>
